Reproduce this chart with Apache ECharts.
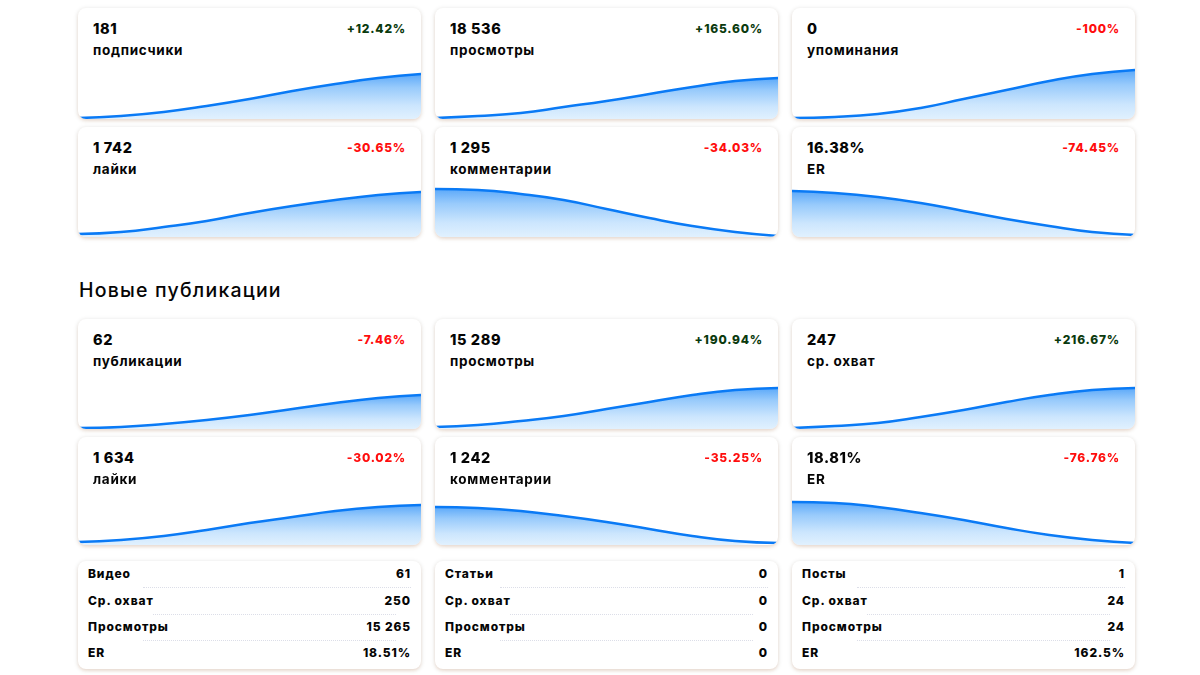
<!DOCTYPE html>
<html>
<head>
<meta charset="utf-8">
<script src="https://cdn.jsdelivr.net/npm/echarts@6/dist/echarts.min.js"></script>
<style>
  html, body { margin:0; padding:0; background:#fff; width:1200px; height:675px; overflow:hidden; }
  body { position:relative; font-family: Inter, "Noto Sans", sans-serif; color:#050505; }
  .card { position:absolute; width:343px; background:#fff; border-radius:8px;
          box-shadow: 0 1px 5px rgba(0,0,0,0.14), 0 2px 3px rgba(255,190,140,0.2); overflow:hidden; }
  .val { position:absolute; left:15px; top:12px; font-size:14.5px; font-weight:800; letter-spacing:0.6px; }
  .lbl { position:absolute; left:15px; top:34px; font-size:13.5px; font-weight:700; letter-spacing:0.7px; }
  .pct { position:absolute; right:15px; top:13px; font-size:12px; font-weight:800; letter-spacing:0.8px; }
  .spark { position:absolute; left:0; right:0; bottom:0; height:60px; }
  .title { position:absolute; left:79px; top:278px; font-size:19.5px; font-weight:500; letter-spacing:1.2px; }
  .row { position:absolute; left:10px; right:10px; height:20px; font-size:12px; font-weight:800; letter-spacing:0.9px; }
  .row .k { position:absolute; left:0; top:0; }
  .row .v { position:absolute; right:0; top:0; }
  .sep { position:absolute; height:0; border-top:1.5px dotted #dcdee8; }
</style>
</head>
<body>
<div id="root"></div>
<script>
// ---- data ----
const metricValues = ["181","18 536","0","1 742","1 295","16.38%","62","15 289","247","1 634","1 242","18.81%"];
const metricLabels = ["подписчики","просмотры","упоминания","лайки","комментарии","ER","публикации","просмотры","ср. охват","лайки","комментарии","ER"];
const metricChanges = ["+12.42%","+165.60%","-100%","-30.65%","-34.03%","-74.45%","-7.46%","+190.94%","+216.67%","-30.02%","-35.25%","-76.76%"];
const sparkPoints = ["1","2","3","4","5","6","7","8","9"];
const spark01 = [1, 3, 7, 13, 20, 28, 35, 41, 45];
const spark02 = [1, 3, 6, 12, 18, 25, 32, 38, 41];
const spark03 = [1, 2, 5, 11, 20, 29, 38, 45, 49];
const spark04 = [3, 5, 10, 16, 24, 31, 37, 42, 45];
const spark05 = [48, 47, 43, 37, 28, 19, 11, 5, 1];
const spark06 = [46, 44, 40, 34, 26, 18, 11, 5, 2];
const spark07 = [1, 2, 5, 9, 14, 20, 26, 31, 34];
const spark08 = [2, 4, 8, 13, 20, 27, 34, 39, 41];
const spark09 = [1, 3, 6, 12, 19, 27, 34, 39, 41];
const spark10 = [3, 5, 9, 15, 22, 28, 34, 38, 40];
const spark11 = [38, 37, 34, 29, 23, 16, 9, 4, 2];
const spark12 = [43, 42, 38, 32, 25, 17, 10, 5, 2];
const sectionTitle = "Новые публикации";
const tableKeys1 = ["Видео","Ср. охват","Просмотры","ER"];
const tableVals1 = ["61","250","15 265","18.51%"];
const tableKeys2 = ["Статьи","Ср. охват","Просмотры","ER"];
const tableVals2 = ["0","0","0","0"];
const tableKeys3 = ["Посты","Ср. охват","Просмотры","ER"];
const tableVals3 = ["1","24","24","162.5%"];

// ---- layout ----
const sparks = [spark01,spark02,spark03,spark04,spark05,spark06,spark07,spark08,spark09,spark10,spark11,spark12];
const colX = [78, 435, 792];
const rowY = [8, 127, 319, 437];
const rowH = [111, 110, 110, 108];
const root = document.getElementById('root');

const t = document.createElement('div');
t.className = 'title'; t.textContent = sectionTitle; root.appendChild(t);

for (let i = 0; i < 12; i++) {
  const r = Math.floor(i / 3), c = i % 3;
  const card = document.createElement('div');
  card.className = 'card';
  card.style.left = colX[c] + 'px';
  card.style.top = rowY[r] + 'px';
  card.style.height = rowH[r] + 'px';
  const v = document.createElement('div'); v.className = 'val'; v.textContent = metricValues[i];
  const l = document.createElement('div'); l.className = 'lbl'; l.textContent = metricLabels[i];
  const p = document.createElement('div'); p.className = 'pct'; p.textContent = metricChanges[i];
  p.style.color = metricChanges[i].startsWith('+') ? '#0b3a0e' : '#ff0d0d';
  const s = document.createElement('div'); s.className = 'spark';
  card.appendChild(s); card.appendChild(v); card.appendChild(l); card.appendChild(p);
  root.appendChild(card);
  const ch = echarts.init(s, null, { renderer: 'canvas' });
  ch.setOption({
    animation: false,
    grid: { left: 0, right: 0, top: 0, bottom: 0 },
    xAxis: { type: 'category', data: sparkPoints, boundaryGap: false, show: false },
    yAxis: { type: 'value', min: 0, max: 60, show: false },
    series: [{
      type: 'line', data: sparks[i], smooth: true, symbol: 'none',
      lineStyle: { color: '#0a7af5', width: 2.5 },
      areaStyle: {
        color: new echarts.graphic.LinearGradient(0, 0, 0, 1, [
          { offset: 0, color: '#1583f6' },
          { offset: 0.3, color: '#6bb3f9' },
          { offset: 0.7, color: '#b5dafc' },
          { offset: 1, color: '#d3eafd' }
        ])
      }
    }]
  });
}

const tables = [[tableKeys1, tableVals1], [tableKeys2, tableVals2], [tableKeys3, tableVals3]];
const rowTops = [5, 32, 58, 84];
for (let c = 0; c < 3; c++) {
  const card = document.createElement('div');
  card.className = 'card';
  card.style.left = colX[c] + 'px';
  card.style.top = '561px';
  card.style.height = '108px';
  for (let k = 0; k < 4; k++) {
    const row = document.createElement('div'); row.className = 'row';
    row.style.top = rowTops[k] + 'px';
    const a = document.createElement('div'); a.className = 'k'; a.textContent = tables[c][0][k];
    const b = document.createElement('div'); b.className = 'v'; b.textContent = tables[c][1][k];
    row.appendChild(a); row.appendChild(b); card.appendChild(row);
    if (k < 3) {
      const sp = document.createElement('div'); sp.className = 'sep';
      sp.style.left = (k === 1 ? 75 : 65) + 'px';
      sp.style.right = (k === 0 ? 10 : 25) + 'px';
      sp.style.top = (rowTops[k] + 21) + 'px';
      card.appendChild(sp);
    }
  }
  root.appendChild(card);
}
</script>
</body>
</html>
